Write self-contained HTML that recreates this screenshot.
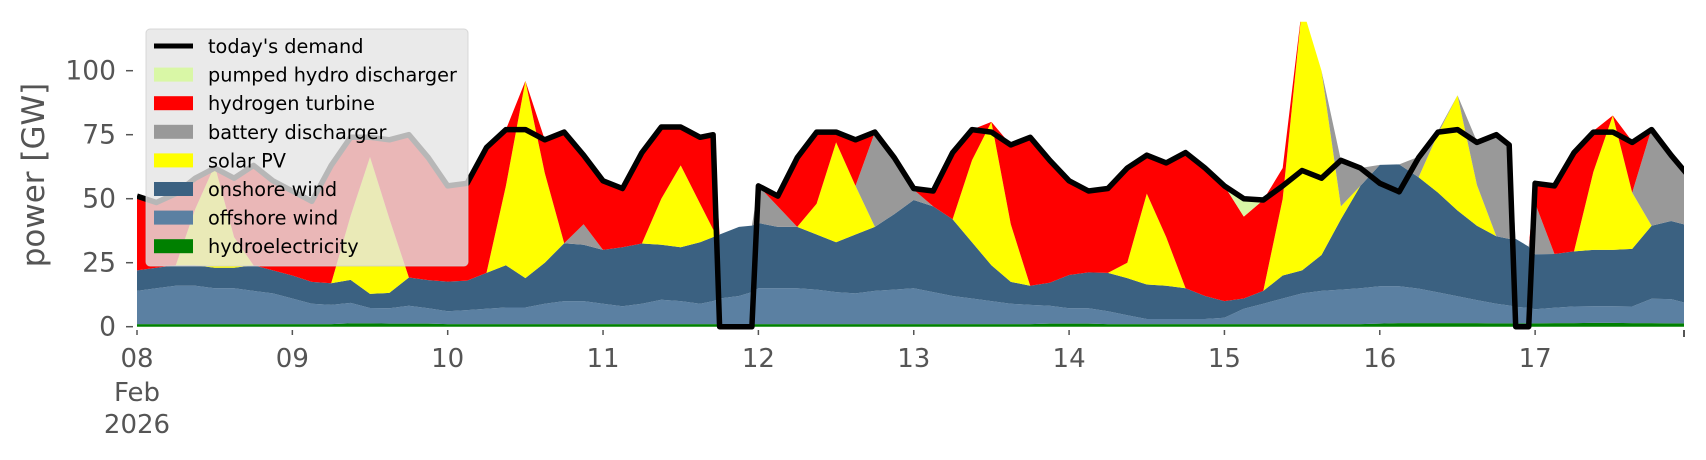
<!DOCTYPE html>
<html><head><meta charset="utf-8">
<style>
html,body{margin:0;padding:0;background:#fff;}
svg{display:block;font-family:"DejaVu Sans","Liberation Sans",sans-serif;}
</style></head>
<body>
<svg id="chart" width="1706" height="460" viewBox="0 0 1706 460" xmlns="http://www.w3.org/2000/svg">
  <defs><clipPath id="plotclip"><rect x="137" y="21.7" width="1547" height="313"/></clipPath></defs>
  <rect x="0" y="0" width="1706" height="460" fill="#fff"/>
  <g id="areas" clip-path="url(#plotclip)"></g>
  <g id="axes"></g>
  <text transform="translate(44,175) rotate(-90)" text-anchor="middle" font-size="31" fill="#555">power [GW]</text>
  <g id="legend"></g>
</svg>
<script>
const hours = [0,3,6,9,12,15,18,21,24,27,30,33,36,39,42,45,48,51,54,57,60,63,66,69,72,75,78,81,84,87,89,90,93,95,
96,99,102,105,108,111,114,117,120,123,126,129,132,135,138,141,144,147,150,153,156,159,162,165,168,171,174,177,180,183,186,189,192,195,198,201,204,207,210,212,213,215,216,219,222,225,228,231,234,237,240];
const hydro = [1,1,1,1,1,1,1,1,1,1,1,1.3,1.3,1.2,1.2,1.2,1,1,1,1,1,1,1,1,1,1,1,1,1,1,1,1,1,1,
1,1,1,1,1,1,1,1,1,1,1,1,1,1,1,1.2,1.2,1.2,1,1,1,1,1,1,1,1,1,1,1,1,1,1,1.2,1.4,1.4,1.4,1.4,1.4,1.3,1.3,1.3,1.3,1.3,1.4,1.4,1.5,1.5,1.4,1.4,1.3,1.3];
const offshore = [13,14,15,15,14,14,13,12,10,8,7.5,8,6,6,7,6,5,5.5,6,6.5,6.5,8,9,9,8,7,8,9.5,9,8,9,10,11,12.5,
14,14,14,13.5,12.5,12,13,13.5,14,12.5,11,10,9,8,7.5,7,6,6,5,3.5,2,2,2,2,2.5,6,8,10,12,13,13.5,14,14.6,14.4,13.5,12,10.5,9,7.7,7,6.5,6,5.5,6,6.5,6.5,6.5,6.5,9.5,9.5,7.5];
const onshore = [8,8,8,8,8,8,10,9,9,8.5,8.5,9,5.5,6,11,11,11.6,11.5,14,16.5,11.5,16,22.6,22,21,23,23.5,21.5,21,24,25,25,27,26,
25.5,24,24,21.5,19.5,23,25,29.5,34.5,33.5,30,22,14,8.5,7.5,9,13,14,15,14.5,13.5,13,12,9,6.5,4,5,9,9,14,27.5,40,47.4,47.6,43.5,39,33.5,29,26.3,26,26.5,24,21.5,21,21.5,22,22,22.5,28.5,30.5,30.5];
const solar = [0,0,0,22,40,12,0,0,0,0,0,25,53.5,29,0,0,0,0,0,31,77,35,0,0,0,0,0,18,32,15,3,0,0,0,
0,0,0,12,39,19,0,0,0,0,0,32,56,22.5,0,0,0,0,0,6,35.5,19,0,0,0,0,0,30,103,72,5,0,0,0,0,23,45,16,0,0,0,0,0,0,0,30.5,52.5,22,0,0,0];
const battery = [0,0,0,0,0,0,0,0,0,0,0,0,0,0,0,0,0,0,0,0,0,0,0,8,0,0,0,0,0,0,0,0,0,0,
14.5,8,0,0,0,0,37,22,4,0,0,0,0,0,0,0,0,0,0,0,0,0,0,0,0,0,0,0,0,0,18,7,0,0,8,1,0,17,40,37,0,0,20,0,0,0,0,0,38,26,19];
const hydrogen = [29,25.5,28,12,0,23,39,35,33,31.5,46,31,8,31,56,48,37.4,38,49,22,0,13,43.4,27,27,23,35.5,28,15,26,37,0,0,0,
0,4,27,28,4,18,0,0,0.5,6,26,12,0,31,58,48,37,32,33,37,15,29,53,50,45,32,35.5,12,0,0,0,0,0,0,0,0,0,0,0,0,0,0,8,27,39,16,0,20,0,0,0];
const pumpedHydro = [0,0,0,0,0,0,0,0,0,0,0,0,0,0,0,0,0,0,0,0,0,0,0,0,0,0,0,0,0,0,0,0,0,0,
0,0,0,0,0,0,0,0,0,0,0,0,0,0,0,0,0,0,0,0,0,0,0,0,0,7,0,0,0,0,0,0,0,0,0,0,0,0,0,0,0,0,0,0,0,0,0,0,0,0,0];
const demand = [51,48.5,52,58,62,58,63,57,53,49,63,74,74,73,75,66,55,56,70,77,77,73,76,67,57,54,68,78,78,74,75,0,0,0,
55,51,66,76,76,73,76,66,54,53,68,77,76,71,74,65,57,53,54,62,67,64,68,62,55,50,49.5,55,61,58,65,62,56,52.7,66,76,77,72,75,71,0,0,56,55,68,76,76,72,77,67,58];
const yTicks = [0,25,50,75,100];
const xTickLabels = ["08","09","10","11","12","13","14","15","16","17"];
const seriesNames = ["hydroelectricity","offshore wind","onshore wind","solar PV","battery discharger","hydrogen turbine","pumped hydro discharger"];
const seriesColors = ["#008000","#5b80a2","#3b6181","#ffff00","#999999","#ff0000","#d9f7a6"];

const NS = "http://www.w3.org/2000/svg";
const X0 = 137, PXH = (1684-137)/239, Y0 = 326.7, PXG = 2.56;
const xs = h => X0 + h*PXH;
const ys = v => Y0 - v*PXG;

const series = [hydro, offshore, onshore, solar, battery, hydrogen, pumpedHydro];
const areas = document.getElementById('areas');
let cum = hours.map(() => 0);
series.forEach((s, k) => {
  const bottom = cum.slice();
  cum = cum.map((c, i) => c + s[i]);
  let d = hours.map((h, i) => (i ? 'L' : 'M') + xs(h).toFixed(1) + ',' + ys(cum[i]).toFixed(1)).join(' ');
  for (let i = hours.length - 1; i >= 0; i--) d += ' L' + xs(hours[i]).toFixed(1) + ',' + ys(bottom[i]).toFixed(1);
  d += ' Z';
  const p = document.createElementNS(NS, 'path');
  p.setAttribute('d', d);
  p.setAttribute('fill', seriesColors[k]);
  
  
  areas.appendChild(p);
});
const dl = document.createElementNS(NS, 'path');
dl.setAttribute('d', hours.map((h, i) => (i ? 'L' : 'M') + xs(h).toFixed(1) + ',' + ys(demand[i]).toFixed(1)).join(' '));
dl.setAttribute('fill', 'none');
dl.setAttribute('stroke', '#000');
dl.setAttribute('stroke-width', '5.5');
dl.setAttribute('stroke-linejoin', 'round');


areas.appendChild(dl);

const axes = document.getElementById('axes');
yTicks.forEach(v => {
  const t = document.createElementNS(NS, 'line');
  t.setAttribute('x1', 126); t.setAttribute('x2', 133);
  t.setAttribute('y1', ys(v)); t.setAttribute('y2', ys(v));
  t.setAttribute('stroke', '#555'); t.setAttribute('stroke-width', '1.5');
  
  
  axes.appendChild(t);
  const tx = document.createElementNS(NS, 'text');
  tx.setAttribute('x', 116); tx.setAttribute('y', ys(v) + 9);
  tx.setAttribute('text-anchor', 'end'); tx.setAttribute('font-size', '26.5'); tx.setAttribute('fill', '#555');
  tx.textContent = v;
  
  
  axes.appendChild(tx);
});
xTickLabels.forEach((lab, i) => {
  const x = xs(i*24);
  const t = document.createElementNS(NS, 'line');
  t.setAttribute('x1', x); t.setAttribute('x2', x); t.setAttribute('y1', 330); t.setAttribute('y2', 335);
  t.setAttribute('stroke', '#555'); t.setAttribute('stroke-width', '1.5');
  
  
  axes.appendChild(t);
  const tx = document.createElementNS(NS, 'text');
  tx.setAttribute('x', x); tx.setAttribute('y', 367);
  tx.setAttribute('text-anchor', 'middle'); tx.setAttribute('font-size', '26'); tx.setAttribute('fill', '#555');
  tx.textContent = lab;
  
  
  axes.appendChild(tx);
});
const endTick = document.createElementNS(NS, 'line');
endTick.setAttribute('x1', 1684); endTick.setAttribute('x2', 1684); endTick.setAttribute('y1', 330); endTick.setAttribute('y2', 337);
endTick.setAttribute('stroke', '#555'); endTick.setAttribute('stroke-width', '2');


axes.appendChild(endTick);
[["Feb", 401], ["2026", 433]].forEach(([s, y]) => {
  const tx = document.createElementNS(NS, 'text');
  tx.setAttribute('x', X0); tx.setAttribute('y', y);
  tx.setAttribute('text-anchor', 'middle'); tx.setAttribute('font-size', '26'); tx.setAttribute('fill', '#555');
  tx.textContent = s;
  
  
  axes.appendChild(tx);
});

const legend = document.getElementById('legend');
const bg = document.createElementNS(NS, 'rect');
bg.setAttribute('x', 146); bg.setAttribute('y', 29); bg.setAttribute('width', 322); bg.setAttribute('height', 237);
bg.setAttribute('rx', 4); bg.setAttribute('fill', '#e5e5e5'); bg.setAttribute('fill-opacity', '0.8');
bg.setAttribute('stroke', '#d0d0d0'); bg.setAttribute('stroke-opacity', '0.8');


legend.appendChild(bg);
const legendLabels = ["today's demand"].concat(seriesNames.slice().reverse());
const legendColors = ["#000"].concat(seriesColors.slice().reverse());
legendLabels.forEach((lab, i) => {
  const cy = 46 + i*28.6;
  let m;
  if (i === 0) {
    m = document.createElementNS(NS, 'line');
    m.setAttribute('x1', 154); m.setAttribute('x2', 193); m.setAttribute('y1', cy); m.setAttribute('y2', cy);
    m.setAttribute('stroke', '#000'); m.setAttribute('stroke-width', '5');
  } else {
    m = document.createElementNS(NS, 'rect');
    m.setAttribute('x', 154); m.setAttribute('y', cy - 7); m.setAttribute('width', 39); m.setAttribute('height', 14);
    m.setAttribute('fill', legendColors[i]);
  }
  
  
  legend.appendChild(m);
  const tx = document.createElementNS(NS, 'text');
  tx.setAttribute('x', 208); tx.setAttribute('y', cy + 7);
  tx.setAttribute('font-size', '19.3'); tx.setAttribute('fill', '#000');
  tx.textContent = lab;
  
  
  legend.appendChild(tx);
});
</script>
</body></html>
